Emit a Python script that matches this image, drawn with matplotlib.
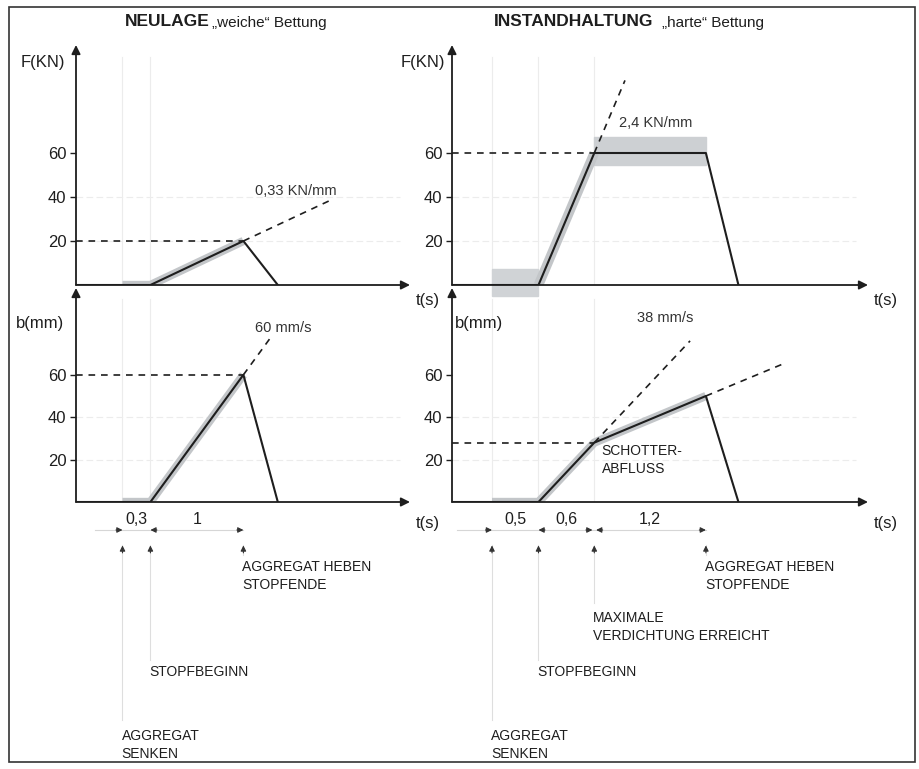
import matplotlib.pyplot as plt
from matplotlib.patches import Rectangle

plt.rcParams['font.family'] = ['Liberation Sans', 'DejaVu Sans']

W, H = 920, 769
PX_S = 93.0          # pixels per second on both time axes
INK = '#1e1e1e'
GRAY = '#c3c6c9'
FAINT = '#ececec'

# --- left: NEULAGE "weiche" Bettung ---
left_events = [0.5, 0.8, 1.8]            # senken, stopfbeginn, heben
left_steps = ['0,3', '1']
left_t = [0, 0.8, 1.8, 2.17]
left_F = [0, 0, 20, 0]
left_b = [0, 0, 60, 0]
left_F_ext = ([1.8, 2.76], [20, 39])
left_b_ext = ([1.8, 2.1], [60, 78])

# --- right: INSTANDHALTUNG "harte" Bettung ---
right_events = [0.43, 0.93, 1.53, 2.73]  # senken, stopfbeginn, max. verdichtung, heben
right_steps = ['0,5', '0,6', '1,2']
right_t = [0, 0.93, 1.53, 2.73, 3.08]
right_F = [0, 0, 60, 60, 0]
right_b = [0, 0, 28, 50, 0]
right_F_ext = ([1.53, 1.86], [60, 93])
right_b_ext1 = ([1.53, 2.56], [28, 76])
right_b_ext2 = ([2.73, 3.58], [50, 65.5])

yticks = [20, 40, 60]

fig = plt.figure(figsize=(W / 100, H / 100), dpi=100)


def px_axes(l, t, r, b, scale):
    ax = fig.add_axes([l / W, 1 - b / H, (r - l) / W, (b - t) / H])
    ax.set_xlim(0, (r - l) / PX_S)
    ax.set_ylim(0, (b - t) / scale)
    for s in ax.spines.values():
        s.set_visible(False)
    ax.set_xticks([])
    ax.set_yticks(yticks)
    ax.tick_params(axis='y', length=4, width=1, pad=3, labelsize=12, colors=INK)
    ax.patch.set_alpha(0)
    xmax, ymax = ax.get_xlim()[1], ax.get_ylim()[1]
    arr = dict(arrowstyle='-|>', color=INK, lw=1.3, mutation_scale=13, shrinkA=0, shrinkB=0)
    ax.annotate('', xy=(0, ymax), xytext=(0, 0), arrowprops=arr, annotation_clip=False)
    ax.annotate('', xy=(xmax, 0), xytext=(0, 0), arrowprops=arr, annotation_clip=False)
    return ax


def faint_grid(ax, events):
    ymax = ax.get_ylim()[1]
    xmax = ax.get_xlim()[1]
    for y in [20, 40]:
        ax.plot([0, xmax * 0.97], [y, y], color=FAINT, lw=0.8, ls=(0, (6, 3)), zorder=0)
    for t in events:
        ax.plot([t, t], [0, ymax * 0.95], color=FAINT, lw=0.8, zorder=0)


def dashed(ax, xs, ys):
    ax.plot(xs, ys, color=INK, lw=1.2, ls=(0, (4, 3.5)), zorder=3)


def head(ax, t, v, dx=0.0, dy=0.0):
    ax.annotate('', xy=(t, v), xytext=(t - dx, v - dy),
                arrowprops=dict(arrowstyle='-|>', color='#333', lw=0.8,
                                mutation_scale=8, shrinkA=0, shrinkB=0),
                annotation_clip=False)


def timeline(ax, events, steps, start, heads, v_line, v_text, v_head, bottoms, labels):
    ax.plot([start, events[-1]], [v_line, v_line], color='#d6d6d6', lw=0.8, clip_on=False)
    for (t0, t1), s in zip(zip(events[:-1], events[1:]), steps):
        ax.text((t0 + t1) / 2, v_text, s, ha='center', va='bottom', fontsize=11.5, color=INK)
    for t, d in heads:
        head(ax, t, v_line, dx=0.07 * d)
    for t, vb, (lab, vt) in zip(events, bottoms, labels):
        ax.plot([t, t], [v_head, vb], color='#dedede', lw=0.8, clip_on=False)
        head(ax, t, v_head, dy=3.5)
        ax.text(t - 0.01, vt, lab, ha='left', va='top', fontsize=10, color=INK,
                linespacing=1.35)


# --- top left ---
tl = px_axes(76, 45, 410, 285, 2.2)
faint_grid(tl, left_events[:2])
tl.plot([left_events[0], left_t[1], left_t[2]], [0, 0, left_F[2]], color=GRAY, lw=6,
        solid_capstyle='butt', zorder=1)
dashed(tl, [0, left_t[2]], [left_F[2], left_F[2]])
dashed(tl, *left_F_ext)
tl.plot(left_t, left_F, color=INK, lw=1.5, zorder=4)
tl.text(-0.36, 101, 'F(KN)', ha='center', va='center', fontsize=12, color=INK)
tl.text(1.92, 42.7, '0,33 KN/mm', ha='left', va='center', fontsize=10.5, color='#333')
tl.text(3.78, -7, 't(s)', ha='center', va='center', fontsize=12, color=INK)

# --- bottom left ---
bl = px_axes(76, 288, 410, 502, 2.12)
faint_grid(bl, left_events[:2])
bl.plot([left_events[0], left_t[1], left_t[2]], [0, 0, left_b[2]], color=GRAY, lw=6,
        solid_capstyle='butt', zorder=1)
dashed(bl, [0, left_t[2]], [left_b[2], left_b[2]])
dashed(bl, *left_b_ext)
bl.plot(left_t, left_b, color=INK, lw=1.5, zorder=4)
bl.text(-0.39, 84.4, 'b(mm)', ha='center', va='center', fontsize=12, color=INK)
bl.text(1.92, 82, '60 mm/s', ha='left', va='center', fontsize=10.5, color='#333')
bl.text(3.78, -10, 't(s)', ha='center', va='center', fontsize=12, color=INK)
timeline(bl, left_events, left_steps, 0.2,
         [(left_events[0], 1), (left_events[1], -1), (left_events[2], 1)],
         -13.2, -12, -20.5, [-103, -74.5, -25],
         [('AGGREGAT\nSENKEN', -107), ('STOPFBEGINN', -77),
          ('AGGREGAT HEBEN\nSTOPFENDE', -27.5)])

# --- top right ---
tr = px_axes(452, 45, 868, 285, 2.2)
faint_grid(tr, right_events[:3])
tr.add_patch(Rectangle((right_events[0], -5), right_events[1] - right_events[0], 12.5,
                       color='#d0d3d6', zorder=1, clip_on=False))
tr.add_patch(Rectangle((right_t[2], 54.5), right_t[3] - right_t[2], 12.8,
                       color='#cdd0d3', zorder=1))
tr.plot(right_t[1:3], right_F[1:3], color=GRAY, lw=7, solid_capstyle='butt', zorder=1)
dashed(tr, [0, right_t[2]], [right_F[2], right_F[2]])
dashed(tr, *right_F_ext)
tr.plot(right_t, right_F, color=INK, lw=1.5, zorder=4)
tr.text(-0.31, 101, 'F(KN)', ha='center', va='center', fontsize=12, color=INK)
tr.text(1.80, 73.6, '2,4 KN/mm', ha='left', va='center', fontsize=10.5, color='#333')
tr.text(4.66, -7, 't(s)', ha='center', va='center', fontsize=12, color=INK)

# --- bottom right ---
br = px_axes(452, 288, 868, 502, 2.12)
faint_grid(br, right_events[:3])
br.plot([right_events[0]] + right_t[1:4], [0] + right_b[1:4], color=GRAY, lw=6,
        solid_capstyle='butt', zorder=1)
dashed(br, [0, right_t[2]], [right_b[2], right_b[2]])
dashed(br, *right_b_ext1)
dashed(br, *right_b_ext2)
br.plot(right_t, right_b, color=INK, lw=1.5, zorder=4)
br.text(0.03, 84.4, 'b(mm)', ha='left', va='center', fontsize=12, color=INK)
br.text(1.99, 86.8, '38 mm/s', ha='left', va='center', fontsize=10.5, color='#333')
br.text(1.61, 27.5, 'SCHOTTER-\nABFLUSS', ha='left', va='top', fontsize=10,
        color=INK, linespacing=1.35)
br.text(4.66, -10, 't(s)', ha='center', va='center', fontsize=12, color=INK)
timeline(br, right_events, right_steps, 0.05,
         [(right_events[0], 1), (right_events[1], -1), (right_events[2] - 0.02, 1),
          (right_events[2] + 0.02, -1), (right_events[3], 1)],
         -13.2, -12, -20.5, [-103, -74.5, -47.6, -25],
         [('AGGREGAT\nSENKEN', -107), ('STOPFBEGINN', -77),
          ('MAXIMALE\nVERDICHTUNG ERREICHT', -51.5),
          ('AGGREGAT HEBEN\nSTOPFENDE', -27.5)])

# titles
fig.text(125 / W, 1 - 22 / H, 'NEULAGE', fontsize=12.5, fontweight='bold',
         ha='left', va='center', color=INK)
fig.text(212 / W, 1 - 23 / H, '\u201eweiche\u201c Bettung', fontsize=11,
         ha='left', va='center', color=INK)
fig.text(494 / W, 1 - 22 / H, 'INSTANDHALTUNG', fontsize=12.5, fontweight='bold',
         ha='left', va='center', color=INK)
fig.text(662 / W, 1 - 23 / H, '\u201eharte\u201c Bettung', fontsize=11,
         ha='left', va='center', color=INK)

fig.add_artist(Rectangle((9 / W, 1 - 762 / H), 906 / W, 755 / H, fill=False,
                         ec='#333', lw=1.2, transform=fig.transFigure))

fig.savefig('out.png', dpi=100)
